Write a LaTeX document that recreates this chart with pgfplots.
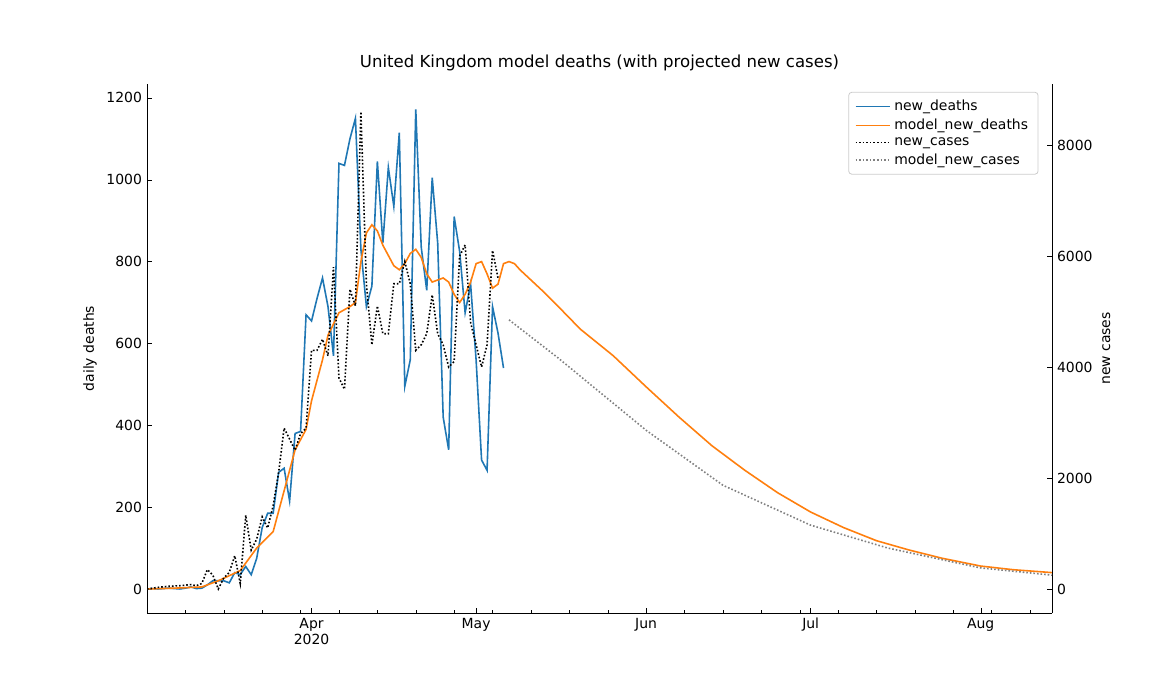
\documentclass[border=0pt]{standalone}
\usepackage{pgfplots}
\pgfplotsset{compat=1.18}
\usepackage{fontspec}
\setmainfont{DejaVu Sans}
\definecolor{mblue}{HTML}{1F77B4}
\definecolor{morange}{HTML}{FF7F0E}
\begin{document}
\fontsize{7}{8.4}\selectfont
\begin{tikzpicture}
\path (-73.5bp,-43.5bp) rectangle (511.5bp,306.5bp);
\pgfplotsset{every axis/.append style={
  scale only axis, width=452.5bp, height=264.5bp, at={(0,0)}, anchor=south west,
  xmin=-30, xmax=135,
  tick style={black}, major tick length=2.5bp, minor tick length=1.5bp,
  ticklabel style={font=\fontsize{7}{8.4}\selectfont},
  label style={font=\fontsize{7}{8.4}\selectfont},
  /pgf/number format/assume math mode=true,
  scaled y ticks=false, y tick label style={/pgf/number format/1000 sep={}},
}}
\begin{axis}[
  ymin=-58.7, ymax=1234,
  axis y line*=left, axis x line*=bottom,
  xtick={0,30,61,91,122}, xticklabels={{Apr\\2020},May,Jun,Jul,Aug},
  x tick label style={align=center},
  minor xtick={-30,-23,-16,-9,-2,5,12,19,26,33,40,47,54,68,75,82,89,96,103,110,117,124,131},
  ytick={0,200,400,600,800,1000,1200},
  ylabel={daily deaths},
  title={United Kingdom model deaths (with projected new cases)},
  title style={font=\fontsize{8.3}{10}\selectfont, yshift=-2bp},
  legend style={at={(0.985,0.985)}, anchor=north east, draw=black!20, rounded corners=1.5bp,
    font=\fontsize{7}{8.4}\selectfont, row sep=-1pt, legend cell align=left},
  legend image post style={},
]
\addplot[mblue, thick] coordinates {
(-30,0)(-29,1)(-28,0)(-27,1)(-26,2)(-25,1)(-24,0)(-23,2)(-22,5)(-21,1)(-20,2)(-19,10)(-18,20)(-17,20)(-16,20)(-15,15)(-14,40)(-13,35)(-12,55)(-11,35)(-10,75)(-9,150)(-8,185)(-7,185)(-6,285)(-5,295)(-4,215)(-3,380)(-2,385)(-1,670)(0,655)(1,710)(2,760)(3,690)(4,570)(5,1040)(6,1035)(7,1100)(8,1150)(9,830)(10,690)(11,740)(12,1045)(13,845)(14,1030)(15,935)(16,1115)(17,495)(18,560)(19,1172)(20,835)(21,730)(22,1005)(23,845)(24,420)(25,340)(26,910)(27,825)(28,675)(29,745)(30,560)(31,315)(32,290)(33,690)(34,625)(35,540)};
\addlegendentry{new\_deaths}
\addplot[morange, thick] coordinates {
(-30,0)(-25,2)(-20,5)(-17,20)(-13,45)(-10,100)(-7,140)(-5,240)(-3,340)(-1,390)(0,460)(2,560)(3,620)(5,675)(7,690)(8,700)(9,800)(10,870)(11,890)(12,875)(13,840)(15,790)(16,780)(17,795)(18,820)(19,830)(20,810)(21,770)(22,750)(23,755)(24,760)(25,750)(26,720)(27,700)(28,720)(29,750)(30,795)(31,800)(32,770)(33,735)(34,745)(35,795)(36,800)(37,795)(38,780)(40,755)(42,730)(45,690)(49,635)(55,570)(61,494)(67,420)(73,350)(79,290)(85,235)(91,188)(97,150)(103,118)(109,95)(115,75)(122,56)(128,47)(135,40)};
\addlegendentry{model\_new\_deaths}
\addlegendimage{black, thick, densely dotted}
\addlegendentry{new\_cases}
\addlegendimage{gray, thick, densely dotted}
\addlegendentry{model\_new\_cases}
\end{axis}
\begin{axis}[
  ymin=-432, ymax=9099,
  axis y line*=right, axis x line=none,
  ytick={0,2000,4000,6000,8000},
  ylabel={new cases},
]
\addplot[black, thick, densely dotted] coordinates {
(-30,0)(-28,30)(-26,50)(-24,60)(-22,80)(-21,60)(-20,100)(-19,350)(-18,250)(-17,0)(-16,200)(-15,300)(-14,600)(-13,100)(-12,1330)(-11,700)(-10,900)(-9,1300)(-8,1100)(-7,1500)(-6,2100)(-5,2900)(-4,2700)(-3,2500)(-2,2800)(-1,2900)(0,4300)(1,4300)(2,4500)(3,4200)(4,5800)(5,3800)(6,3600)(7,5400)(8,5100)(9,8600)(10,5500)(11,4400)(12,5100)(13,4600)(14,4600)(15,5500)(16,5500)(17,5900)(18,5500)(19,4300)(20,4400)(21,4600)(22,5300)(23,4600)(24,4400)(25,4000)(26,4100)(27,6000)(28,6200)(29,4800)(30,4400)(31,4000)(32,4400)(33,6100)(34,5600)};
\addplot[gray, thick, densely dotted] coordinates {
(36,4850)(45,4160)(61,2860)(75,1870)(91,1150)(105,740)(122,380)(135,250)};
\end{axis}
\end{tikzpicture}
\end{document}
